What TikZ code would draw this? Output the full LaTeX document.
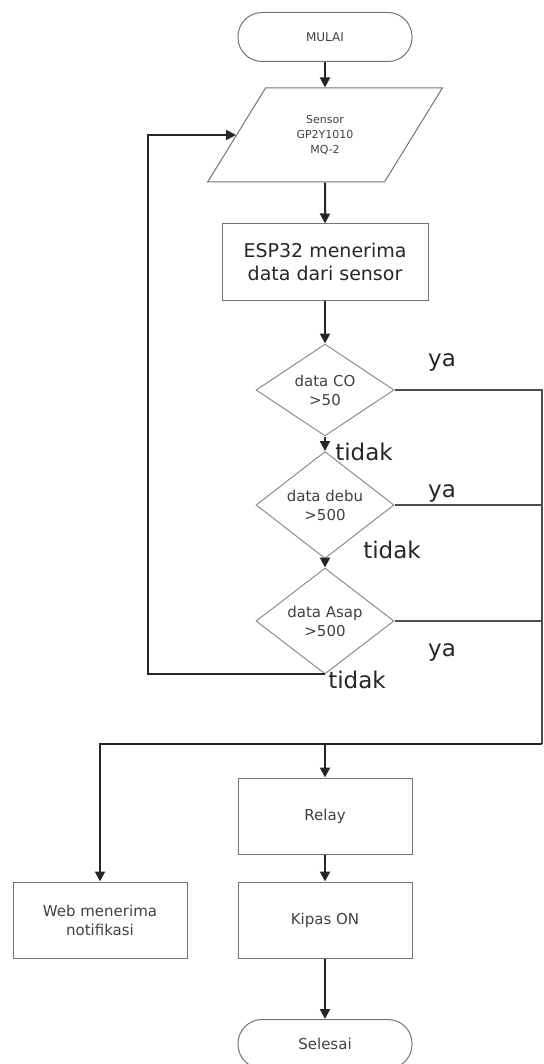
\documentclass[tikz,border=0pt]{standalone}
\usepackage{fontspec}
\setmainfont{DejaVu Sans}
\usetikzlibrary{shapes.geometric,arrows.meta}

\begin{document}
\begin{tikzpicture}[x=0.5pt,y=0.5pt,
    every node/.style={text=black!75, align=center, font=\fontsize{7.5}{9.5}\selectfont},
    box/.style={draw=black!55, line width=0.5pt, minimum width=87pt, minimum height=38pt, inner sep=2pt},
    terminal/.style={draw=black!55, line width=0.5pt, rounded corners=12pt, minimum width=87pt, minimum height=24.5pt},
    decision/.style={diamond, draw=black!45, line width=0.5pt, minimum width=69pt, minimum height=46pt, inner sep=0pt},
    io/.style={trapezium, trapezium left angle=55, trapezium right angle=125, trapezium stretches=true,
        draw=black!55, line width=0.5pt, minimum width=117.5pt, minimum height=47pt, inner sep=0pt},
    answer/.style={font=\fontsize{11.5}{13}\selectfont, text=black!85},
    arrow/.style={-{Triangle[length=5pt,width=5pt]}, line width=1pt, draw=black!85},
    line/.style={line width=0.8pt, draw=black!70}]
    \useasboundingbox (0,0) rectangle (544,-1064);

    % main column
    \node[terminal, font=\fontsize{6}{7}\selectfont] (mulai) at (325,-37) {MULAI};
    \node[io, font=\fontsize{5.5}{7.5}\selectfont] (sensor) at (325,-135) {Sensor\\GP2Y1010\\MQ-2};
    \node[box, minimum width=103pt, text=black!85, font=\fontsize{9.5}{11.5}\selectfont] (esp) at (325,-262) {ESP32 menerima\\data dari sensor};
    \node[decision] (co) at (325,-390) {data CO\\>50};
    \node[decision] (debu) at (325,-505) {data debu\\>500};
    \node[decision] (asap) at (325,-621) {data Asap\\>500};
    \node[box] (relay) at (325,-816) {Relay};
    \node[box] (kipas) at (325,-920) {Kipas ON};
    \node[box] (web) at (100,-920) {Web menerima\\notifikasi};
    \node[terminal] (selesai) at (325,-1044) {Selesai};

    % ya / tidak
    \node[answer] (ya1) at (442,-362) {ya};
    \node[answer] (ya2) at (442,-493) {ya};
    \node[answer] (ya3) at (442,-652) {ya};
    \node[answer] (tidak1) at (364,-452) {tidak};
    \node[answer] (tidak2) at (392,-550) {tidak};
    \node[answer] (tidak3) at (357,-680) {tidak};

    \draw[arrow] (mulai) -- (sensor);
    \draw[arrow] (sensor) -- (esp);
    \draw[arrow] (esp) -- (co);
    \draw[arrow] (co) -- (debu);
    \draw[arrow] (debu) -- (asap);

    % ya: down the right edge
    \coordinate (rbot) at (542,-744);
    \draw[line] (co.east) -| (rbot);
    \draw[line] (debu.east) -- (debu.east -| rbot);
    \draw[line] (asap.east) -- (asap.east -| rbot);
    \draw[arrow] (rbot) -| (web);
    \draw[arrow] (relay |- rbot) -- (relay);
    \draw[arrow] (relay) -- (kipas);
    \draw[arrow] (kipas) -- (selesai);

    % tidak: back to the sensor
    \coordinate (back) at (148,-668);
    \draw[arrow] (asap.south) -- (asap.south -| back) |- (sensor.west);
\end{tikzpicture}
\end{document}
